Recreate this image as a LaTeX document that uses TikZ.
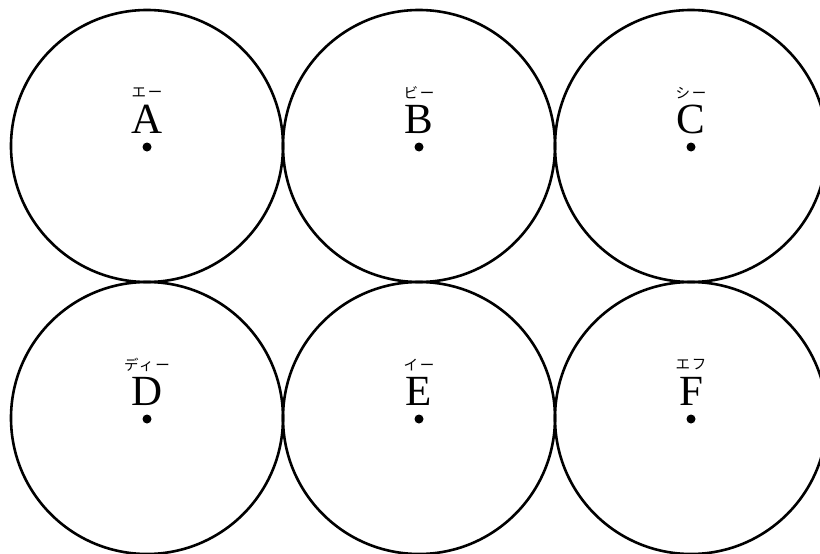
\documentclass[tikz,border=0pt]{standalone}
\usepackage{fontspec}
\setmainfont{Liberation Serif}
\newfontfamily\cjk[LetterSpace=12]{Noto Sans CJK JP}
\begin{document}
\begin{tikzpicture}[x=1pt,y=-1pt,
  ring/.style={draw, line width=2.6pt, circle, minimum size=272pt, inner sep=0pt},
  centerdot/.style={circle, fill, inner sep=0pt, minimum size=9pt},
  letter/.style={font=\fontsize{43}{43}\selectfont, inner sep=0pt, anchor=base},
  ruby/.style={font=\cjk\fontsize{14.5}{14.5}\selectfont, inner sep=0pt}]
\useasboundingbox (0,0) rectangle (820,554);
\clip (0,0) rectangle (820,554);
\foreach \n/\cx/\cy/\L/\R in {a/147/146/A/エー, b/419/146/B/ビー, c/691/146/C/シー,
                              d/147/418/D/ディー, e/419/418/E/イー, f/691/418/F/エフ}{
  \node[ring] (c\n) at (\cx,\cy) {};
  \node[centerdot] (p\n) at (\cx,\cy+1) {};
  \node[letter] (l\n) at (\cx,\cy-13) {\L};
  \node[ruby] (r\n) at (\cx,\cy-53) {\R};
}
\end{tikzpicture}
\end{document}
